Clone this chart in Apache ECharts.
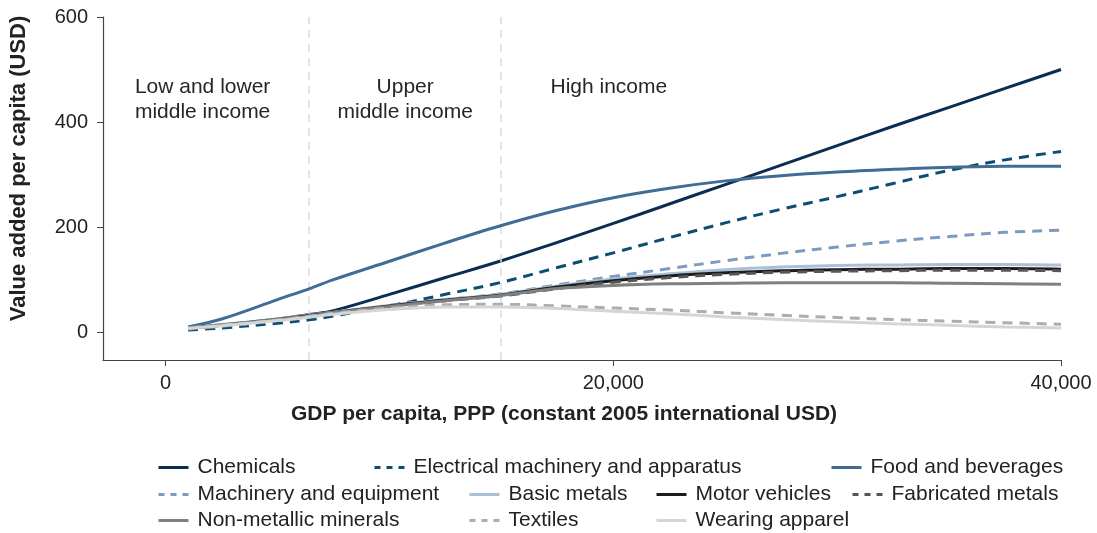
<!DOCTYPE html>
<html>
<head>
<meta charset="utf-8">
<script src="https://cdn.jsdelivr.net/npm/echarts@6/dist/echarts.min.js"></script>
<style>html,body{margin:0;padding:0;background:#fff;}#c{width:1097px;height:533px;}</style>
</head>
<body>
<div id="c"></div>
<script>
const gdp = [1000,2500,5000,6500,7500,10000,12500,15000,17500,20000,22500,25000,27500,30000,32500,35000,37500,40000];
const chemicals  = [8,14,25,34,41,72,104,136,171,207,244,281,318,355,392,428,464,500];
const electrical = [4,8,17,24,31,50,72,95,123,151,180,208,234,258,283,308,328,344];
const food       = [10,25,62,84,100,135,170,203,232,256,274,288,298,305,310,314,316,316];
const machinery  = [6,11,22,30,36,51,62,73,90,106,121,136,150,162,173,182,190,194];
const basicMetals= [8,14,25,33,38,51,62,72,88,101,111,119,124,127,128,129,129,128];
const motor      = [7,13,24,32,37,50,61,71,86,98,107,113,117,119,120,121,121,120];
const fabricated = [6,12,23,31,36,49,60,69,83,95,104,110,114,116,117,118,118,117];
const nonMetal   = [7,13,24,31,37,49,60,70,83,89,92,93,94,94,94,93,92,91];
const textiles   = [7,13,23,31,36,46,52,53,50,46,42,37,32,28,24,21,18,15];
const apparel    = [7,12,22,29,34,43,48,48,45,40,35,29,24,20,16,13,10,8];

const seriesNames = ["Chemicals","Electrical machinery and apparatus","Food and beverages","Machinery and equipment","Basic metals","Motor vehicles","Fabricated metals","Non-metallic minerals","Textiles","Wearing apparel"];
const seriesValues = [chemicals, electrical, food, machinery, basicMetals, motor, fabricated, nonMetal, textiles, apparel];
const seriesColors = ["#0b2d52","#0d4d72","#406c95","#7b9bc0","#a9c0d8","#1c1c1c","#565656","#808080","#adadad","#d5d5d5"];
const seriesDashed = [false,true,false,true,false,false,true,false,true,false];

const xTicks = [0, 20000, 40000];
const yTicks = [0, 200, 400, 600];
const incomeThresholds = [6400, 14950];
const regionLabels = ["Low and lower\nmiddle income", "Upper\nmiddle income", "High income"];
const regionX = [1650, 10700, 19800];
const regionY = [443, 443, 467];

// legend layout (left px of icon, top px)
const legendPos = [[157,457],[373,457],[830,457],[157,484],[468,484],[655,484],[851,484],[157,510],[468,510],[655,510]];

const font = "Liberation Sans, Arial, Helvetica, sans-serif";
const chart = echarts.init(document.getElementById('c'), null, {renderer:'canvas'});

const series = seriesNames.map((n,i)=>({
  name: n, type: 'line', smooth: 0.35, symbol: 'none',
  data: gdp.map((x,j)=>[x, seriesValues[i][j]]),
  lineStyle: {color: seriesColors[i], width: 3, type: seriesDashed[i] ? [10,7] : 'solid'},
  itemStyle: {color: seriesColors[i]},
  z: 3 + i
}));
series.unshift({
  name: '_guides', type: 'line', data: [], silent: true, z: 1,
  markLine: {
    silent: true, symbol: 'none',
    lineStyle: {color: '#dcdcdc', width: 1.5, type: [8,6]},
    label: {show: false},
    data: incomeThresholds.map(v=>({xAxis: v}))
  },
  markPoint: {
    symbol: 'circle', symbolSize: 0,
    label: {show: true, position: 'inside', color: '#262626', fontSize: 21, lineHeight: 25, fontFamily: font, align: 'center', verticalAlign: 'middle', formatter: p => p.name},
    data: regionLabels.map((t,i)=>({name: t, coord: [regionX[i], regionY[i]]}))
  }
});

const legends = seriesNames.map((n,i)=>({
  data: [n], left: legendPos[i][0], top: legendPos[i][1], padding: 0,
  itemWidth: 30, itemHeight: 14, selectedMode: false,
  itemStyle: {opacity: 0},
  lineStyle: seriesDashed[i] ? {type: [6,6], width: 3} : {width: 3},
  textStyle: {fontSize: 21, color: '#222', fontFamily: font, padding: [0,0,0,4]}
}));

chart.setOption({
  animation: false,
  backgroundColor: '#fff',
  grid: {left: 102, right: 36, top: 17, bottom: 173, containLabel: false},
  legend: legends,
  xAxis: {
    type: 'value', min: -2800, max: 40000,
    name: 'GDP per capita, PPP (constant 2005 international USD)',
    nameLocation: 'middle', nameGap: 44,
    nameTextStyle: {fontSize: 21, fontWeight: 'bold', color: '#222', fontFamily: font, padding: [0, 36, 0, 0]},
    axisLine: {show: true, onZero: false, lineStyle: {color: '#444', width: 1.2}},
    axisTick: {show: true, length: 6, customValues: xTicks, lineStyle: {color: '#444'}},
    axisLabel: {customValues: xTicks, fontSize: 20, color: '#222', fontFamily: font, margin: 13,
      formatter: v => v.toLocaleString('en-US')},
    splitLine: {show: false}
  },
  yAxis: {
    type: 'value', min: -53, max: 600,
    name: 'Value added per capita (USD)',
    nameLocation: 'middle', nameGap: 73, nameRotate: 90,
    nameTextStyle: {fontSize: 22, fontWeight: 'bold', color: '#222', fontFamily: font, padding: [0, 0, 0, 40]},
    axisLine: {show: true, onZero: false, lineStyle: {color: '#444', width: 1.2}},
    axisTick: {show: true, length: 6, customValues: yTicks, lineStyle: {color: '#444'}},
    axisLabel: {customValues: yTicks, fontSize: 20, color: '#222', fontFamily: font, margin: 15},
    splitLine: {show: false}
  },
  series: series
});
</script>
</body>
</html>
